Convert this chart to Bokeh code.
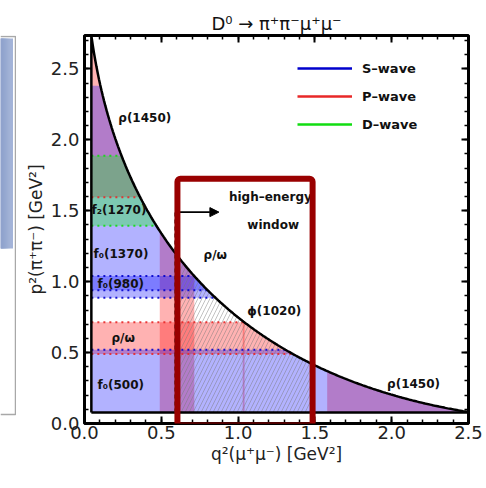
import numpy as np
from bokeh.plotting import figure
from bokeh.layouts import row
from bokeh.models import (Range1d, LinearAxis, Legend, LegendItem, Arrow, NormalHead,
                          BoxAnnotation, SingleIntervalTicker, PrintfTickFormatter,
                          CustomJSTickFormatter)
from bokeh.core.properties import value
from bokeh.embed import file_html
from bokeh.resources import INLINE

# particle masses [GeV]
M_D0 = 1.86484
M_PI = 0.13957
M_MU = 0.10566

# resonance bands in p^2(pi+pi-) [GeV^2]
p2_wave = ["P", "P", "S", "S", "S", "D"]
p2_lo = [0.49, 1.594, 0.078, 0.887, 0.94, 1.394]
p2_hi = [0.713, 2.74, 0.52, 2.38, 1.04, 1.887]

# resonance bands in q^2(mu+mu-) [GeV^2] (vector mesons -> P-wave colour)
q2_lo = [0.49, 1.030, 1.58]
q2_hi = [0.715, 1.042, 2.52]

# hatched "high-energy window" in q^2
hatch_lo, hatch_hi = 0.59, 1.49
# highlight rectangle (q^2 range, p^2 range)
box_q2 = (0.605, 1.485)
box_p2 = (-0.014, 1.725)

# labels
lab_text = ["ρ(1450)", "f₂(1270)", "f₀(1370)", "f₀(980)", "ρ/ω", "f₀(500)",
            "ρ/ω", "ϕ(1020)", "ρ(1450)", "high–energy", "window"]
lab_x = [0.22, 0.046, 0.059, 0.085, 0.176, 0.085, 0.775, 1.06, 1.97, 0.94, 1.06]
lab_y = [2.15, 1.507, 1.197, 0.986, 0.606, 0.268, 1.19, 0.79, 0.28, 1.60, 1.40]

wave_names = ["S–wave", "P–wave", "D–wave"]
wave_fill = {"S": "#0000ff", "P": "#ff0000", "D": "#00ff00"}
wave_line = {"S": "#0000cc", "P": "#e82828", "D": "#11dd11"}

Q2MIN = 4 * M_MU ** 2
P2MIN = 4 * M_PI ** 2
Q2MAX = (M_D0 - 2 * M_PI) ** 2
P2MAX = (M_D0 - 2 * M_MU) ** 2


def q2_edge(p2):
    return (M_D0 - np.sqrt(p2)) ** 2


def p2_edge(q2):
    return (M_D0 - np.sqrt(q2)) ** 2


H = 488
p = figure(width=470, height=H, output_backend="svg", toolbar_location=None,
           x_range=Range1d(0, 2.5), y_range=Range1d(0, 2.735),
           min_border_left=68, min_border_right=18, min_border_top=35, min_border_bottom=65)
p.xgrid.visible = False
p.ygrid.visible = False
p.outline_line_color = "black"
p.outline_line_width = 3
p.background_fill_color = "white"

p.title.text = "D⁰ → π⁺π⁻μ⁺μ⁻"
p.title.text_font = "DejaVu Sans"
p.title.text_font_size = "18px"
p.title.text_font_style = "normal"
p.title.align = "center"
p.title.text_color = "#111111"
p.title.standoff = 4

# ---- filled bands: red first, then blue, then green ----
for wave in ["P", "S", "D"]:
    col = wave_fill[wave]
    for w, lo, hi in zip(p2_wave, p2_lo, p2_hi):
        if w != wave:
            continue
        hi_c = min(hi, P2MAX)
        yy = np.linspace(lo, hi_c, 80)
        p.harea(x1=np.full_like(yy, Q2MIN), x2=q2_edge(yy), y=yy,
                fill_color=col, fill_alpha=0.3)
    if wave == "P":
        for lo, hi in zip(q2_lo, q2_hi):
            xx = np.linspace(lo, min(hi, Q2MAX), 80)
            p.varea(x=xx, y1=np.full_like(xx, P2MIN), y2=p2_edge(xx),
                    fill_color=col, fill_alpha=0.3)

# hatched window
xx = np.linspace(hatch_lo, hatch_hi, 80)
p.varea(x=xx, y1=np.full_like(xx, P2MIN), y2=p2_edge(xx), fill_alpha=0,
        hatch_pattern="/", hatch_color="#777777", hatch_alpha=0.45, hatch_scale=8,
        hatch_weight=1)

# dotted band edges
for w, lo, hi in zip(p2_wave, p2_lo, p2_hi):
    for e in (lo, hi):
        if e <= P2MIN + 0.01 or e >= 2.3:
            continue
        p.line([Q2MIN, q2_edge(e)], [e, e], line_color=wave_line[w], line_width=2,
               line_dash="2 4", line_alpha=0.9)

# phase-space boundary
cq = np.linspace(Q2MIN, Q2MAX, 300)
p.line(np.concatenate([[Q2MIN, Q2MIN], cq]),
       np.concatenate([[P2MIN, p2_edge(Q2MIN)], p2_edge(cq)]),
       line_color="black", line_width=2.5)
p.line([Q2MIN, Q2MAX], [P2MIN, P2MIN], line_color="black", line_width=2.5)

# dashed line marking window start + arrow
p.line([hatch_lo, hatch_lo], [P2MIN, 1.5], line_color="#333333", line_width=1.6,
       line_dash="4 3")
p.add_layout(Arrow(x_start=hatch_lo, y_start=1.49, x_end=0.875, y_end=1.49,
                   line_color="black", line_width=1.6,
                   end=NormalHead(size=9, fill_color="black", line_color="black")))

# labels
p.text(x=lab_x, y=lab_y, text=lab_text, text_font=value("DejaVu Sans"),
       text_font_style="bold", text_font_size="12px", text_color="#111111",
       text_baseline="middle", text_align="left")

# highlight rectangle
p.add_layout(BoxAnnotation(left=box_q2[0], right=box_q2[1], bottom=box_p2[0], top=box_p2[1],
                           fill_alpha=0, line_color="#990000", line_alpha=1.0, line_width=6,
                           border_radius=3))

# legend with dummy line renderers
items = []
for name, wv in zip(wave_names, ["S", "P", "D"]):
    r = p.line([np.nan, np.nan], [np.nan, np.nan], line_color=wave_line[wv], line_width=2.5)
    items.append(LegendItem(label=name, renderers=[r]))
legend = Legend(items=items, location=(213, 289), glyph_width=55, glyph_height=20,
                label_height=20, label_standoff=10, spacing=8, padding=0, margin=0,
                border_line_alpha=0, background_fill_alpha=0,
                label_text_font="DejaVu Sans", label_text_font_style="bold",
                label_text_font_size="13px", label_text_color="#111111")
p.add_layout(legend)

# axes styling
p.xaxis.ticker = SingleIntervalTicker(interval=0.5, num_minor_ticks=5)
p.yaxis.ticker = SingleIntervalTicker(interval=0.5, num_minor_ticks=5)
for ax in (p.xaxis[0], p.yaxis[0]):
    ax.formatter = PrintfTickFormatter(format="%.1f")
    ax.axis_line_color = None
    ax.major_tick_in = 7
    ax.major_tick_out = 0
    ax.minor_tick_in = 4
    ax.minor_tick_out = 0
    ax.major_tick_line_width = 2
    ax.minor_tick_line_width = 1.5
    ax.major_tick_line_color = "black"
    ax.minor_tick_line_color = "black"
    ax.major_label_text_font = "DejaVu Sans"
    ax.major_label_text_font_size = "18px"
    ax.major_label_text_color = "#222222"
    ax.axis_label_text_font = "DejaVu Sans"
    ax.axis_label_text_font_size = "17px"
    ax.axis_label_text_font_style = "normal"
    ax.axis_label_text_color = "#222222"
p.xaxis.axis_label = "q²(μ⁺μ⁻) [GeV²]"
p.yaxis.axis_label = "p²(π⁺π⁻) [GeV²]"
p.xaxis.major_label_standoff = 2
p.yaxis.major_label_standoff = 5
p.xaxis.axis_label_standoff = 2
p.yaxis.axis_label_standoff = 2

for place in ("right", "above"):
    ax = LinearAxis(ticker=SingleIntervalTicker(interval=0.5, num_minor_ticks=5),
                    formatter=CustomJSTickFormatter(code="return ''"))
    ax.axis_line_color = None
    ax.major_label_standoff = 0
    ax.major_tick_in = 7
    ax.major_tick_out = 0
    ax.minor_tick_in = 4
    ax.minor_tick_out = 0
    ax.major_tick_line_width = 2
    ax.minor_tick_line_width = 1.5
    p.add_layout(ax, place)

# fragment of the neighbouring panel at the far left (its frame is aligned with the
# main frame, so the range maps page pixels 35..423)
s = figure(width=16, height=H, output_backend="svg", toolbar_location=None,
           x_range=Range1d(0, 16), y_range=Range1d(423, 35),
           min_border=0, x_axis_type=None, y_axis_type=None)
s.outline_line_color = None
s.xgrid.visible = False
s.ygrid.visible = False
s.quad(left=[0], right=[12.5], top=[38], bottom=[248], fill_color="#a3b3d8", line_color=None)
strip_cols = ["#6f87bc", "#7d93c3", "#8c9fca", "#9cadd3"]
strip_left = [0, 0, 0, 0]
strip_right = [3, 5, 7, 9]
s.quad(left=strip_left, right=strip_right, top=[38] * 4, bottom=[248] * 4,
       fill_color=strip_cols, fill_alpha=0.45, line_color=None)
s.line([0, 15, 15, 0], [36, 36, 414, 414], line_color="#a8a8a8", line_width=1.5)

layout = row(s, p)
open("out.html", "w").write(file_html(layout, INLINE))
